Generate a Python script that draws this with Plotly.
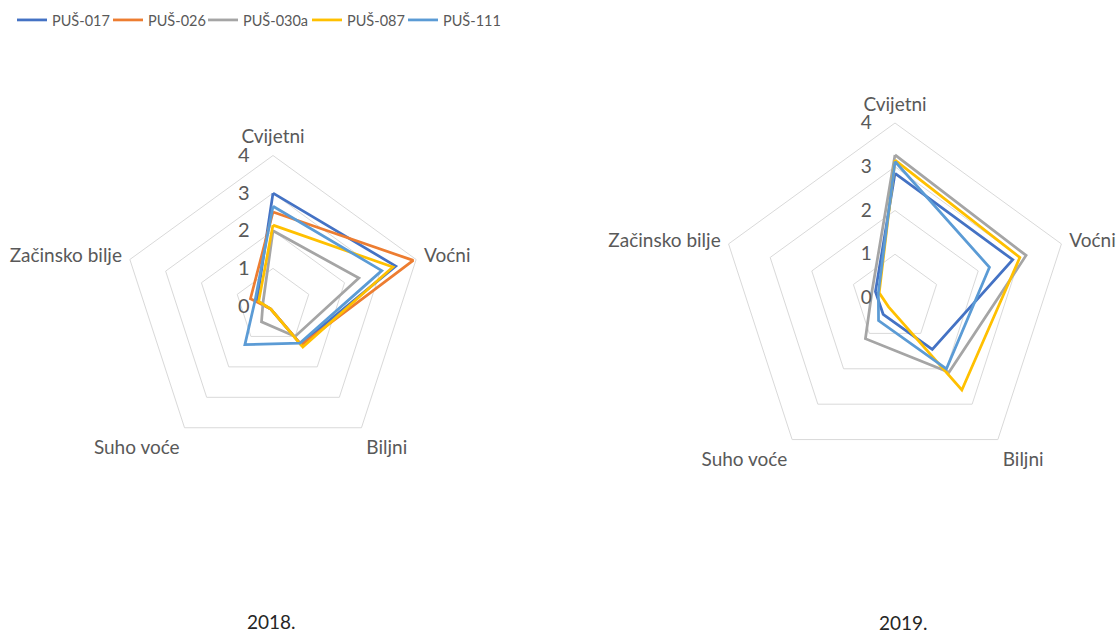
import plotly.graph_objects as go

categories = ["Cvijetni", "Voćni", "Biljni", "Suho voće", "Začinsko bilje"]
series_names = ["PUŠ-017", "PUŠ-026", "PUŠ-030a", "PUŠ-087", "PUŠ-111"]
colors = ["#4472C4", "#ED7D31", "#A5A5A5", "#FFC000", "#5B9BD5"]
radial_ticks = [0, 1, 2, 3, 4]

# 2018 values (order of categories)
v2018_017 = [3.0, 3.43, 1.25, 0.1, 0.45]
v2018_026 = [2.5, 3.92, 1.28, 0.1, 0.63]
v2018_030a = [2.0, 2.4, 1.0, 0.52, 0.28]
v2018_087 = [2.15, 3.35, 1.35, 0.1, 0.4]
v2018_111 = [2.65, 3.04, 1.22, 1.27, 0.5]

# 2019 values (PUŠ-026 not present)
v2019_017 = [2.85, 2.83, 1.45, 0.46, 0.47]
v2019_026 = [None, None, None, None, None]
v2019_030a = [3.27, 3.15, 2.1, 1.15, 0.55]
v2019_087 = [3.15, 3.0, 2.6, 0.25, 0.38]
v2019_111 = [3.12, 2.27, 2.0, 0.64, 0.4]

data2018 = [v2018_017, v2018_026, v2018_030a, v2018_087, v2018_111]
data2019 = [v2019_017, v2019_026, v2019_030a, v2019_087, v2019_111]

FONT = "Lato"
W, H = 1117, 635
legend_ids = ["legend", "legend2", "legend3", "legend4", "legend5"]
legend_x_px = [12, 108, 203, 307, 403]

fig = go.Figure()

def add(vals, name, color, subplot, showlegend, lg):
    r = list(vals) + [vals[0]]
    th = categories + [categories[0]]
    fig.add_trace(go.Scatterpolar(
        r=r, theta=th, mode="lines", name=name, subplot=subplot,
        line=dict(color=color, width=2.75), showlegend=showlegend,
        legendgroup=name, legend=lg))

for vals, n, c, lg in zip(data2018, series_names, colors, legend_ids):
    add(vals, n, c, "polar", True, lg)
for vals, n, c, lg in zip(data2019, series_names, colors, legend_ids):
    add(vals, n, c, "polar2", False, lg)

def polar_cfg(cx, cy, R, tsize):
    return dict(
        domain=dict(x=[(cx - R) / W, (cx + R) / W],
                    y=[(H - cy - R) / H, (H - cy + R) / H]),
        gridshape="linear",
        bgcolor="rgba(0,0,0,0)",
        radialaxis=dict(range=[0, 4], tickvals=radial_ticks,
                        ticktext=[str(t) for t in radial_ticks],
                        angle=90, tickangle=90, side="counterclockwise",
                        showline=False, ticks="outside", ticklen=16,
                        tickcolor="rgba(0,0,0,0)",
                        gridcolor="#D9D9D9", gridwidth=1,
                        tickfont=dict(family=FONT, size=tsize, color="#595959")),
        angularaxis=dict(rotation=90, direction="clockwise",
                         categoryorder="array", categoryarray=categories,
                         showgrid=False, showline=True, linecolor="#D9D9D9",
                         linewidth=1, ticks="outside", ticklen=4,
                         tickcolor="rgba(0,0,0,0)",
                         tickfont=dict(family=FONT, size=19, color="#595959")),
    )

layout_kwargs = dict(
    width=W, height=H,
    margin=dict(l=0, r=0, t=0, b=0),
    paper_bgcolor="white",
    polar=polar_cfg(273, 306, 150.5, 20),
    polar2=polar_cfg(895, 298, 175, 19),
    annotations=[
        dict(text="2018.", x=271 / W, y=1 - 621 / H, xref="paper", yref="paper",
             xanchor="center", yanchor="middle", showarrow=False,
             font=dict(family=FONT, size=19, color="#262626")),
        dict(text="2019.", x=903 / W, y=1 - 622 / H, xref="paper", yref="paper",
             xanchor="center", yanchor="middle", showarrow=False,
             font=dict(family=FONT, size=19, color="#262626")),
    ],
)
for lg, xp in zip(legend_ids, legend_x_px):
    layout_kwargs[lg] = dict(orientation="h", x=xp / W, y=1 - 4 / H,
                             xanchor="left", yanchor="top",
                             font=dict(family=FONT, size=14.5, color="#595959"),
                             itemwidth=30, bgcolor="rgba(0,0,0,0)")
fig.update_layout(**layout_kwargs)

fig.write_html("out.html", config={"displayModeBar": False},
               post_script="document.body.style.margin='0';")
